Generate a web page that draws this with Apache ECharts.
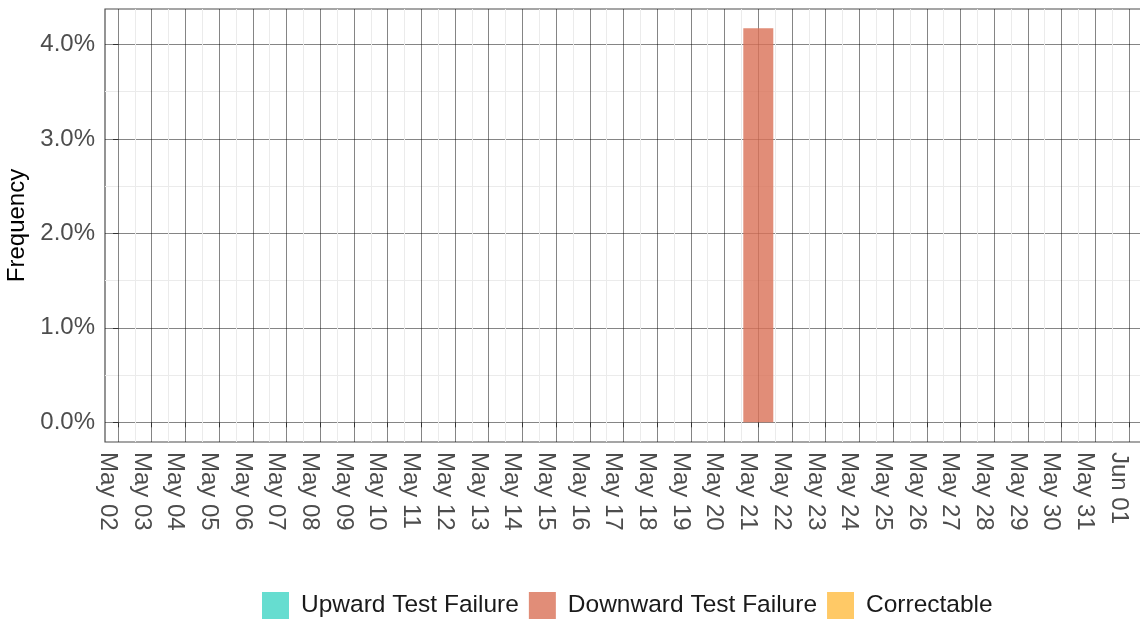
<!DOCTYPE html>
<html>
<head>
<meta charset="utf-8">
<script src="https://cdn.jsdelivr.net/npm/echarts@6/dist/echarts.min.js"></script>
<style>
  html, body { margin: 0; padding: 0; background: #fff; }
  #chart { width: 1140px; height: 621px; }
</style>
</head>
<body>
<div id="chart"></div>
<script>
// tick labels, one per day
const dayLabels = [
  'May 02', 'May 03', 'May 04', 'May 05', 'May 06', 'May 07', 'May 08', 'May 09',
  'May 10', 'May 11', 'May 12', 'May 13', 'May 14', 'May 15', 'May 16', 'May 17',
  'May 18', 'May 19', 'May 20', 'May 21', 'May 22', 'May 23', 'May 24', 'May 25',
  'May 26', 'May 27', 'May 28', 'May 29', 'May 30', 'May 31', 'Jun 01'
];

// frequency in %, one value per day
const upwardFailure = [
  0, 0, 0, 0, 0, 0, 0, 0, 0, 0, 0, 0, 0, 0, 0, 0,
  0, 0, 0, 0, 0, 0, 0, 0, 0, 0, 0, 0, 0, 0, 0
];
const downwardFailure = [
  0, 0, 0, 0, 0, 0, 0, 0, 0, 0, 0, 0, 0, 0, 0, 0,
  0, 0, 0, 4.17, 0, 0, 0, 0, 0, 0, 0, 0, 0, 0, 0
];
const correctable = [
  0, 0, 0, 0, 0, 0, 0, 0, 0, 0, 0, 0, 0, 0, 0, 0,
  0, 0, 0, 0, 0, 0, 0, 0, 0, 0, 0, 0, 0, 0, 0
];

const yTicks = [0, 1, 2, 3, 4];
const yMinorTicks = [0.5, 1.5, 2.5, 3.5];

const seriesNames = ['Upward Test Failure', 'Downward Test Failure', 'Correctable'];
const seriesColors = ['rgba(64,212,196,0.8)', 'rgba(217,112,86,0.8)', 'rgba(255,187,64,0.8)'];

const font = 'Liberation Sans, Arial, sans-serif';
const dayIdx = dayLabels.map((d, i) => i);
const dayMinor = dayIdx.slice(1).map(i => i - 0.5);

const toPairs = vals => vals.map((v, i) => [i, v]);

const chart = echarts.init(document.getElementById('chart'), null, { renderer: 'canvas' });

const majorLine = { show: true, lineStyle: { color: 'rgba(0,0,0,0.48)', width: 1 } };
const minorLine = { show: true, lineStyle: { color: '#ebebeb', width: 1 } };

chart.setOption({
  animation: false,
  backgroundColor: '#fff',
  textStyle: { fontFamily: font },
  grid: {
    left: 105, top: 9, width: 1037, height: 433,
    outerBoundsMode: 'none', containLabel: false,
    show: true, borderColor: '#4d4d4d', borderWidth: 1.2, backgroundColor: 'transparent'
  },
  legend: {
    data: seriesNames,
    left: 262, top: 592, padding: 0,
    icon: 'rect',
    itemWidth: 27, itemHeight: 27, itemGap: 10,
    textStyle: { fontSize: 24.5, color: '#1a1a1a', fontFamily: font, padding: [0, 0, 0, 7] }
  },
  xAxis: [
    {
      type: 'value', min: -0.386, max: 30.386, position: 'bottom',
      axisLine: { show: false },
      axisTick: { show: true, length: 5, customValues: dayIdx, lineStyle: { color: '#333', width: 1 } },
      axisLabel: {
        customValues: dayIdx,
        formatter: v => dayLabels[Math.round(v)],
        rotate: -90, align: 'left', verticalAlign: 'top', lineHeight: 21,
        margin: 10, fontSize: 24, color: '#4d4d4d', fontFamily: font
      },
      splitLine: majorLine
    },
    {
      type: 'value', min: -0.386, max: 30.386, position: 'top',
      axisLine: { show: false }, axisLabel: { show: false },
      axisTick: { show: false, customValues: dayMinor },
      splitLine: minorLine
    }
  ],
  yAxis: [
    {
      type: 'value', min: -0.2083, max: 4.375, position: 'left',
      name: 'Frequency', nameLocation: 'middle', nameRotate: 90, nameGap: 72,
      nameTextStyle: { fontSize: 24, color: '#000', fontFamily: font },
      axisLine: { show: false },
      axisTick: { show: true, length: 5, customValues: yTicks, lineStyle: { color: '#333', width: 1 } },
      axisLabel: {
        customValues: yTicks,
        formatter: v => v.toFixed(1) + '%',
        margin: 10, fontSize: 24, color: '#4d4d4d', fontFamily: font
      },
      splitLine: majorLine
    },
    {
      type: 'value', min: -0.2083, max: 4.375, position: 'right',
      axisLine: { show: false }, axisLabel: { show: false },
      axisTick: { show: false, customValues: yMinorTicks },
      splitLine: minorLine
    }
  ],
  series: [upwardFailure, downwardFailure, correctable].map((vals, k) => ({
    name: seriesNames[k],
    type: 'bar',
    stack: 'total',
    xAxisIndex: 0,
    yAxisIndex: 0,
    barWidth: 30,
    itemStyle: { color: seriesColors[k] },
    data: toPairs(vals)
  }))
});
</script>
</body>
</html>
